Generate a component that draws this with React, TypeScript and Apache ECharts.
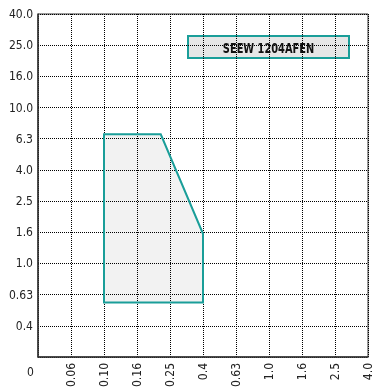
import React, { useEffect, useRef } from "react";
import * as echarts from "echarts";

const xLabels = ["0", "0.06", "0.10", "0.16", "0.25", "0.4", "0.63", "1.0", "1.6", "2.5", "4.0"];
const yLabels = ["0", "0.4", "0.63", "1.0", "1.6", "2.5", "4.0", "6.3", "10.0", "16.0", "25.0", "40.0"];
// polygon vertices in axis-index units
const regionX = [2, 2, 3.72, 5, 5];
const regionY = [1.75, 7.14, 7.14, 3.95, 1.75];
const seriesName = "SEEW 1204AFEN";

const FONT = '"Liberation Sans Narrow", "DejaVu Sans Condensed", "Roboto", sans-serif';
const TEAL = "#1a9e99";

export default function App() {
  const ref = useRef<HTMLDivElement>(null);
  useEffect(() => {
    if (!ref.current) return;
    const chart = echarts.init(ref.current, null, { renderer: "svg" });
    const pts = regionX.map((x, i) => [x, regionY[i]]);
    chart.setOption({
      animation: false,
      grid: { left: 38, top: 14, right: 9, bottom: 30, show: true, borderColor: "#333", borderWidth: 1 },
      xAxis: {
        type: "value",
        min: 0,
        max: xLabels.length - 1,
        interval: 1,
        axisLine: { show: true, lineStyle: { color: "#333", width: 1.5 } },
        axisTick: { show: false },
        splitLine: { show: true, lineStyle: { color: "#000", type: [1, 1], width: 1 } },
        axisLabel: {
          rotate: 90,
          margin: 6,
          fontFamily: FONT,
          fontSize: 12,
          color: "#222",
          formatter: (v: number) => (v === 0 ? "" : xLabels[Math.round(v)]),
        },
      },
      yAxis: {
        type: "value",
        min: 0,
        max: yLabels.length - 1,
        interval: 1,
        axisLine: { show: true, lineStyle: { color: "#333", width: 1.5 } },
        axisTick: { show: false },
        splitLine: { show: true, lineStyle: { color: "#000", type: [1, 1], width: 1 } },
        axisLabel: {
          margin: 5,
          fontFamily: FONT,
          fontSize: 12,
          color: "#222",
          formatter: (v: number) => (v === 0 ? "" : yLabels[Math.round(v)]),
        },
      },
      graphic: [
        {
          type: "text",
          left: 27,
          top: 366,
          style: { text: yLabels[0], font: `12px ${FONT}`, fill: "#222" },
        },
        {
          type: "group",
          left: 187,
          top: 35,
          children: [
            {
              type: "rect",
              shape: { x: 0, y: 0, width: 161, height: 22 },
              style: { fill: "#e6e6e6", stroke: TEAL, lineWidth: 2 },
            },
            {
              type: "text",
              x: 80.5,
              y: 11.5,
              scaleX: 0.78,
              style: {
                text: seriesName,
                font: `bold 14px ${FONT}`,
                fill: "#111",
                align: "center",
                verticalAlign: "middle",
              },
            },
          ],
        },
      ],
      series: [
        {
          type: "custom",
          name: seriesName,
          data: [0],
          renderItem: (params: any, api: any) => {
            const points = pts.map((p) => api.coord(p));
            return {
              type: "polygon",
              shape: { points },
              style: { fill: "rgba(0,0,0,0.05)", stroke: TEAL, lineWidth: 2 },
            };
          },
        },
      ],
    });
    return () => chart.dispose();
  }, []);
  return <div ref={ref} style={{ position: "fixed", left: 0, top: 0, width: 377, height: 390 }} />;
}
